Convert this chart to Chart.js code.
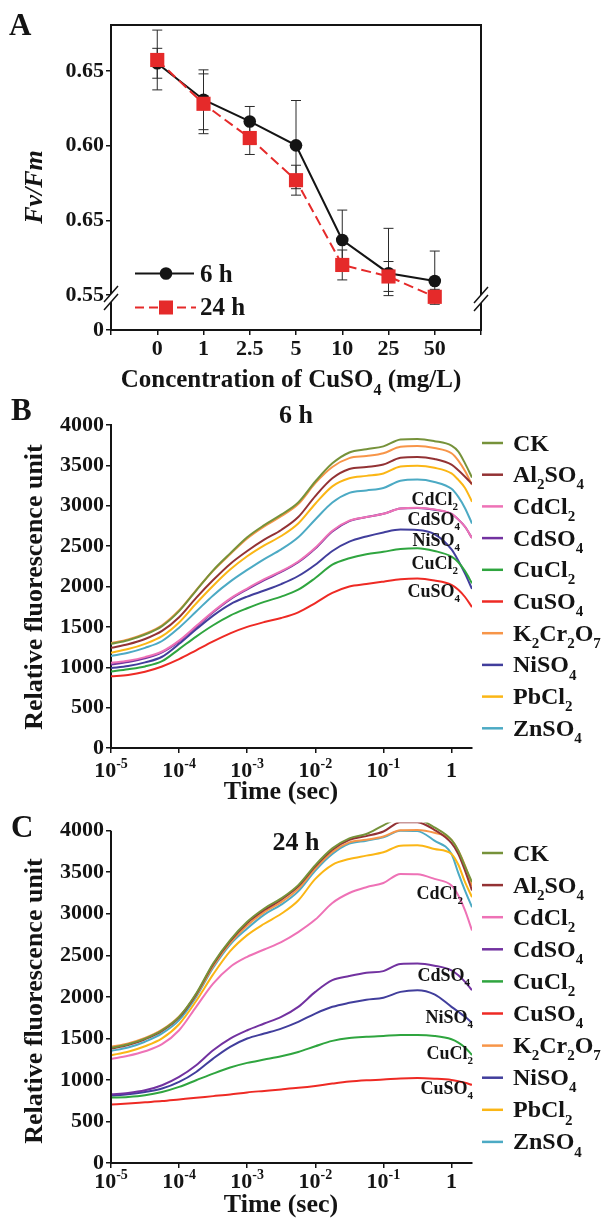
<!DOCTYPE html>
<html><head><meta charset="utf-8">
<script src="https://cdn.jsdelivr.net/npm/chart.js@4.4.1/dist/chart.umd.min.js"></script>
<style>
html,body{margin:0;padding:0;background:#fff;}
body{width:611px;height:1219px;position:relative;overflow:hidden;}
canvas{position:absolute;left:0;}
</style></head><body>
<canvas id="cA" width="611" height="400" style="top:0px;width:611px;height:400px"></canvas>
<canvas id="cB" width="611" height="415" style="top:395px;width:611px;height:415px"></canvas>
<canvas id="cC" width="611" height="419" style="top:800px;width:611px;height:419px"></canvas>
<script>
// ---------- Panel A data ----------
const concLabels = ['0','1','2.5','5','10','25','50'];
const fv6h  = [0.6551,0.6307,0.6162,0.6002,0.5369,0.5147,0.5095];
const fv24h = [0.6573,0.6280,0.6051,0.5769,0.5202,0.5125,0.4989];
const err6hUp    = [0.010,0.020,0.010,0.030,0.020,0.030,0.020];
const err6hDown  = [0.010,0.020,0.010,0.029,0.020,0.015,0.010];
const err24hUp   = [0.020,0.020,0.011,0.010,0.010,0.010,0.005];
const err24hDown = [0.020,0.020,0.011,0.010,0.010,0.010,0.005];
const yTickValsA   = [0.4767,0.50,0.55,0.60,0.65];
const yTickLabelsA = ['0','0.55','0.65','0.60','0.65'];
const legendA = ['6 h','24 h'];

// ---------- Panels B / C data ----------
const timeSec = [1e-5,1.78e-5,3.16e-5,5.62e-5,1e-4,1.78e-4,3.16e-4,5.62e-4,1e-3,1.78e-3,3.16e-3,5.62e-3,1e-2,1.78e-2,3.16e-2,5.62e-2,0.1,0.178,0.316,0.562,1,1.26,1.58,2];
const xTickVals   = [1e-5,1e-4,1e-3,1e-2,1e-1,1];
const xTickLabels = ['10⁻⁵','10⁻⁴','10⁻³','10⁻²','10⁻¹','1'];
const yTickValsF  = [0,500,1000,1500,2000,2500,3000,3500,4000];
const seriesNames = ['CK','Al₂SO₄','CdCl₂','CdSO₄','CuCl₂','CuSO₄','K₂Cr₂O₇','NiSO₄','PbCl₂','ZnSO₄'];
const seriesColors = ['#76923a','#933234','#ee72b6','#7232a0','#2fa53f','#ee2a24','#f79548','#413e9c','#fbb615','#4caac4'];

const b_CK      = [1290,1335,1405,1510,1695,1950,2200,2410,2610,2760,2890,3040,3300,3525,3660,3700,3735,3820,3828,3800,3745,3670,3525,3350];
const b_Al2SO4  = [1240,1285,1350,1450,1620,1860,2080,2280,2440,2580,2700,2860,3120,3340,3455,3480,3510,3595,3605,3580,3510,3440,3360,3270];
const b_CdCl2   = [1055,1080,1125,1195,1330,1510,1690,1850,1975,2090,2190,2310,2480,2690,2815,2860,2900,2965,2975,2955,2900,2830,2740,2600];
const b_CdSO4   = [1035,1065,1110,1185,1320,1500,1680,1840,1965,2080,2180,2300,2470,2680,2810,2860,2900,2965,2972,2950,2900,2830,2740,2600];
const b_CuCl2   = [948,975,1010,1075,1225,1380,1520,1640,1730,1810,1875,1960,2105,2270,2350,2400,2430,2465,2475,2440,2370,2300,2190,2040];
const b_CuSO4   = [887,905,945,1010,1100,1210,1320,1420,1500,1560,1610,1680,1795,1920,2000,2030,2060,2090,2100,2075,2020,1960,1870,1745];
const b_K2Cr2O7 = [1300,1345,1415,1520,1705,1955,2195,2400,2595,2745,2870,3020,3280,3480,3590,3615,3650,3730,3740,3715,3650,3560,3430,3260];
const b_NiSO4   = [990,1015,1060,1130,1290,1470,1640,1780,1875,1950,2030,2130,2270,2440,2555,2620,2670,2705,2700,2650,2460,2320,2160,1970];
const b_PbCl2   = [1180,1225,1290,1385,1555,1790,2010,2210,2375,2510,2625,2780,3025,3240,3340,3370,3400,3485,3495,3470,3400,3320,3220,3050];
const b_ZnSO4   = [1140,1180,1240,1325,1490,1690,1890,2060,2205,2340,2460,2610,2830,3040,3160,3190,3220,3310,3325,3295,3210,3110,2970,2780];

const c_CK      = [1386,1430,1498,1598,1759,2040,2402,2683,2904,3064,3185,3345,3586,3787,3908,3960,4065,4150,4140,4040,3890,3760,3570,3380];
const c_Al2SO4  = [1377,1420,1490,1590,1750,2030,2390,2670,2890,3045,3170,3330,3570,3770,3890,3935,3990,4105,4103,4010,3850,3720,3520,3280];
const c_CdCl2   = [1253,1290,1345,1430,1598,1880,2160,2360,2482,2570,2660,2780,2930,3130,3250,3320,3370,3480,3475,3420,3340,3220,3040,2800];
const c_CdSO4   = [827,843,875,936,1036,1177,1357,1498,1598,1679,1759,1880,2060,2201,2250,2290,2310,2395,2400,2375,2320,2260,2180,2080];
const c_CuCl2   = [787,795,815,855,916,996,1076,1149,1205,1245,1285,1337,1406,1470,1505,1520,1530,1540,1542,1530,1490,1450,1390,1300];
const c_CuSO4   = [703,715,730,745,765,785,805,825,850,868,886,905,928,956,980,995,1005,1018,1022,1015,1000,985,965,940];
const c_K2Cr2O7 = [1398,1440,1505,1605,1765,2020,2370,2650,2860,3020,3140,3300,3545,3745,3860,3890,3930,4005,4010,3975,3890,3760,3580,3330];
const c_NiSO4   = [811,827,855,896,976,1096,1257,1398,1498,1558,1618,1699,1799,1880,1928,1965,1990,2060,2080,2030,1880,1820,1760,1690];
const c_PbCl2   = [1297,1340,1405,1500,1670,1950,2270,2550,2743,2880,3000,3160,3420,3590,3660,3700,3740,3820,3825,3780,3720,3590,3380,3200];
const c_ZnSO4   = [1349,1390,1460,1560,1720,2000,2350,2630,2823,2990,3110,3270,3520,3720,3845,3880,3920,4000,3995,3880,3720,3490,3280,3080];

const seriesB = [b_CK,b_Al2SO4,b_CdCl2,b_CdSO4,b_CuCl2,b_CuSO4,b_K2Cr2O7,b_NiSO4,b_PbCl2,b_ZnSO4];
const seriesC = [c_CK,c_Al2SO4,c_CdCl2,c_CdSO4,c_CuCl2,c_CuSO4,c_K2Cr2O7,c_NiSO4,c_PbCl2,c_ZnSO4];

// in-plot labels: [text, right x, baseline y]
const annotB = [['CdCl₂',458,505],['CdSO₄',460,525],['NiSO₄',460,546],['CuCl₂',458,569],['CuSO₄',460,597]];
const annotC = [['CdCl₂',463,899],['CdSO₄',470,981],['NiSO₄',473,1023],['CuCl₂',473,1059],['CuSO₄',473,1094]];

// ---------- helpers ----------
const FAM = '"Liberation Serif","Times New Roman",serif';
const INK = '#141414';
Chart.defaults.font.family = FAM;
Chart.defaults.font.weight = 'bold';
Chart.defaults.font.size = 22;
Chart.defaults.color = INK;

const SUB = {'₀':'0','₁':'1','₂':'2','₃':'3','₄':'4','₅':'5','₆':'6','₇':'7','₈':'8','₉':'9'};
const SUP = {'⁰':'0','¹':'1','²':'2','³':'3','⁴':'4','⁵':'5','⁶':'6','⁷':'7','⁸':'8','⁹':'9','⁻':'-'};
function segs(str){
  const out=[];
  for(const ch of str){
    let t='n', c=ch;
    if(SUB[ch]){t='sub';c=SUB[ch];} else if(SUP[ch]){t='sup';c=SUP[ch];}
    const last=out[out.length-1];
    if(last && last.t===t) last.s+=c; else out.push({t:t,s:c});
  }
  return out;
}
function richText(ctx, str, x, y, size, align, style, rot){
  align = align||'left'; style = style||'bold';
  const parts = segs(str);
  const fontFor = t => style+' '+(t==='n'?size:Math.round(size*0.63))+'px '+FAM;
  let w=0;
  for(const p of parts){ctx.font=fontFor(p.t); p.w=ctx.measureText(p.s).width; w+=p.w;}
  ctx.save();
  ctx.translate(x,y); if(rot) ctx.rotate(rot);
  let cx = align==='left'?0:(align==='center'?-w/2:-w);
  ctx.textBaseline='alphabetic'; ctx.textAlign='left'; ctx.fillStyle=INK;
  for(const p of parts){
    ctx.font=fontFor(p.t);
    const dy = p.t==='sub'? size*0.3 : (p.t==='sup'? -size*0.42 : 0);
    ctx.fillText(p.s, cx, dy);
    cx+=p.w;
  }
  ctx.restore();
}
function drawBreak(ctx, cx, cy){
  ctx.save();
  ctx.fillStyle='#fff';
  ctx.beginPath();
  ctx.moveTo(cx-6, cy+5); ctx.lineTo(cx+6, cy-9); ctx.lineTo(cx+6, cy-1); ctx.lineTo(cx-6, cy+13);
  ctx.closePath(); ctx.fill();
  ctx.strokeStyle=INK; ctx.lineWidth=1.5;
  ctx.beginPath();
  ctx.moveTo(cx-7, cy+6); ctx.lineTo(cx+7, cy-10);
  ctx.moveTo(cx-7, cy+14); ctx.lineTo(cx+7, cy-2);
  ctx.stroke();
  ctx.restore();
}

// ---------- Panel A ----------
const decorA = {
  id:'decorA',
  beforeDatasetsDraw(chart){
    const {ctx, scales:{x,y}} = chart;
    ctx.save(); ctx.strokeStyle='#2a2a2a'; ctx.lineWidth=1;
    [[fv6h,err6hUp,err6hDown],[fv24h,err24hUp,err24hDown]].forEach(([vals,up,dn])=>{
      vals.forEach((v,i)=>{
        const px=x.getPixelForValue(i), y1=y.getPixelForValue(v+up[i]), y2=y.getPixelForValue(v-dn[i]);
        ctx.beginPath();
        ctx.moveTo(px,y1); ctx.lineTo(px,y2);
        ctx.moveTo(px-5,y1); ctx.lineTo(px+5,y1);
        ctx.moveTo(px-5,y2); ctx.lineTo(px+5,y2);
        ctx.stroke();
      });
    });
    ctx.restore();
  },
  afterDraw(chart){
    const {ctx, chartArea:a} = chart;
    ctx.save();
    ctx.strokeStyle=INK; ctx.lineWidth=2;
    ctx.beginPath(); ctx.moveTo(a.left-1,a.top); ctx.lineTo(a.right,a.top); ctx.lineTo(a.right,a.bottom+1); ctx.stroke();
    drawBreak(ctx, a.left, 296);
    drawBreak(ctx, a.right, 297);
    // legend
    ctx.strokeStyle=INK; ctx.lineWidth=2; ctx.setLineDash([]);
    ctx.beginPath(); ctx.moveTo(135,273.5); ctx.lineTo(194,273.5); ctx.stroke();
    ctx.fillStyle=INK; ctx.beginPath(); ctx.arc(166,273.5,6.3,0,Math.PI*2); ctx.fill();
    ctx.strokeStyle='#e52a2a'; ctx.setLineDash([9,5]);
    ctx.beginPath(); ctx.moveTo(135,307.5); ctx.lineTo(196,307.5); ctx.stroke();
    ctx.setLineDash([]);
    ctx.fillStyle='#e52a2a'; ctx.fillRect(159,300.5,14,14);
    richText(ctx, legendA[0], 200, 282, 25);
    richText(ctx, legendA[1], 200, 315, 25);
    // texts
    richText(ctx, 'A', 9, 35, 31);
    richText(ctx, 'Concentration of CuSO₄ (mg/L)', 291, 387, 25, 'center');
    richText(ctx, 'Fv/Fm', 42, 187, 26, 'center', 'italic bold', -Math.PI/2);
    ctx.restore();
  }
};

new Chart(document.getElementById('cA'), {
  type:'line',
  data:{datasets:[
    {label:legendA[0], data:fv6h.map((v,i)=>({x:i,y:v})), borderColor:INK, backgroundColor:INK,
     borderWidth:2, pointStyle:'circle', pointRadius:6.3, pointBorderWidth:0, order:2},
    {label:legendA[1], data:fv24h.map((v,i)=>({x:i,y:v})), borderColor:'#e52a2a', backgroundColor:'#e52a2a',
     borderWidth:2, borderDash:[10,5], pointStyle:'rect', pointRadius:10, pointBorderWidth:0, order:1}
  ]},
  options:{
    responsive:false, animation:false, devicePixelRatio:1,
    layout:{padding:{left:0,top:25,right:130,bottom:0}, autoPadding:false},
    plugins:{legend:{display:false}, tooltip:{enabled:false}},
    scales:{
      x:{type:'linear', min:-1, max:7,
         afterBuildTicks:s=>{s.ticks=[-1,0,1,2,3,4,5,6,7].map(v=>({value:v}));},
         afterFit:s=>{s.height=70;},
         ticks:{autoSkip:false, padding:1, font:{size:22}, callback:(v)=> (v>=0 && v<concLabels.length)? concLabels[v] : ''},
         grid:{drawOnChartArea:false, drawTicks:true, tickLength:5, color:INK, lineWidth:1.5},
         border:{display:true, color:INK, width:2}},
      y:{type:'linear', min:0.4767, max:0.6807,
         afterBuildTicks:s=>{s.ticks=yTickValsA.map(v=>({value:v}));},
         afterFit:s=>{s.width=111;},
         ticks:{autoSkip:false, padding:2, font:{size:22}, callback:(v,i)=>yTickLabelsA[i]},
         grid:{drawOnChartArea:false, drawTicks:true, tickLength:5, color:INK, lineWidth:1.5},
         border:{display:true, color:INK, width:2}}
    }
  },
  plugins:[decorA]
});

// ---------- Panels B & C ----------
function fluorChart(id, topOff, series, cfg){
  const decor = {
    id:'decor'+id,
    afterDraw(chart){
      const {ctx, scales:{x,y}} = chart;
      ctx.save();
      ctx.translate(0,-topOff);
      if(cfg.customAxis){
        ctx.strokeStyle=INK; ctx.lineWidth=2;
        ctx.beginPath(); ctx.moveTo(x.left, y.getPixelForValue(4000)+topOff); ctx.lineTo(x.left, y.getPixelForValue(0)+topOff+1); ctx.stroke();
      }
      x.ticks.forEach((t,i)=>{
        richText(ctx, xTickLabels[i], x.getPixelForValue(t.value), cfg.tickBase, 22, 'center');
      });
      richText(ctx, 'Time (sec)', 281, cfg.xTitleBase, 26, 'center');
      richText(ctx, 'Relative fluorescence unit', 42, cfg.yTitleMid, 26, 'center', 'bold', -Math.PI/2);
      richText(ctx, cfg.letter, 11, cfg.letterBase, 31);
      richText(ctx, cfg.title, 296, cfg.titleBase, 26, 'center');
      cfg.annot.forEach(a=>richText(ctx, a[0], a[1], a[2], 18, 'right'));
      seriesNames.forEach((n,i)=>{
        const yy = cfg.legY + cfg.legDy*i;
        ctx.strokeStyle=seriesColors[i]; ctx.lineWidth=2.5;
        ctx.beginPath(); ctx.moveTo(482,yy); ctx.lineTo(503,yy); ctx.stroke();
        richText(ctx, n, 513, yy+7.5, 24);
      });
      ctx.restore();
    }
  };
  return new Chart(document.getElementById(id), {
    type:'line',
    data:{datasets: series.map((vals,i)=>({
      label:seriesNames[i], data:timeSec.map((t,k)=>({x:t,y:vals[k]})),
      borderColor:seriesColors[i], backgroundColor:seriesColors[i], borderWidth:2,
      pointRadius:0, cubicInterpolationMode:'monotone', fill:false
    }))},
    options:{
      responsive:false, animation:false, devicePixelRatio:1,
      layout:{padding:{left:0,top:cfg.padTop,right:139,bottom:0}, autoPadding:false},
      plugins:{legend:{display:false}, tooltip:{enabled:false}},
      scales:{
        x:{type:'logarithmic', min:1e-5, max:2,
           afterBuildTicks:s=>{s.ticks=xTickVals.map(v=>({value:v}));},
           afterFit:s=>{s.height=cfg.xHeight;},
           ticks:{display:false},
           grid:{drawOnChartArea:false, drawTicks:true, tickLength:5, color:INK, lineWidth:1.5},
           border:{display:true, color:INK, width:2}},
        y:{type:'linear', min:0, max:cfg.yMax,
           afterBuildTicks:s=>{s.ticks=yTickValsF.map(v=>({value:v}));},
           afterFit:s=>{s.width=111;},
           ticks:{autoSkip:false, padding:2, font:{size:22}, callback:(v)=>String(v)},
           grid:{drawOnChartArea:false, drawTicks:true, tickLength:5, color:INK, lineWidth:1.5},
           border:{display:!cfg.customAxis, color:INK, width:2}}
      }
    },
    plugins:[decor]
  });
}

fluorChart('cB', 395, seriesB, {padTop:30, xHeight:62, yMax:4000, customAxis:false,
  tickBase:777, xTitleBase:799, yTitleMid:587, letter:'B', letterBase:420, title:'6 h', titleBase:423,
  annot:annotB, legY:443, legDy:31.7});
fluorChart('cC', 800, seriesC, {padTop:22.4, xHeight:56, yMax:4100, customAxis:true,
  tickBase:1188, xTitleBase:1212, yTitleMid:1001, letter:'C', letterBase:837, title:'24 h', titleBase:850,
  annot:annotC, legY:853, legDy:32.1});
</script>
</body></html>
